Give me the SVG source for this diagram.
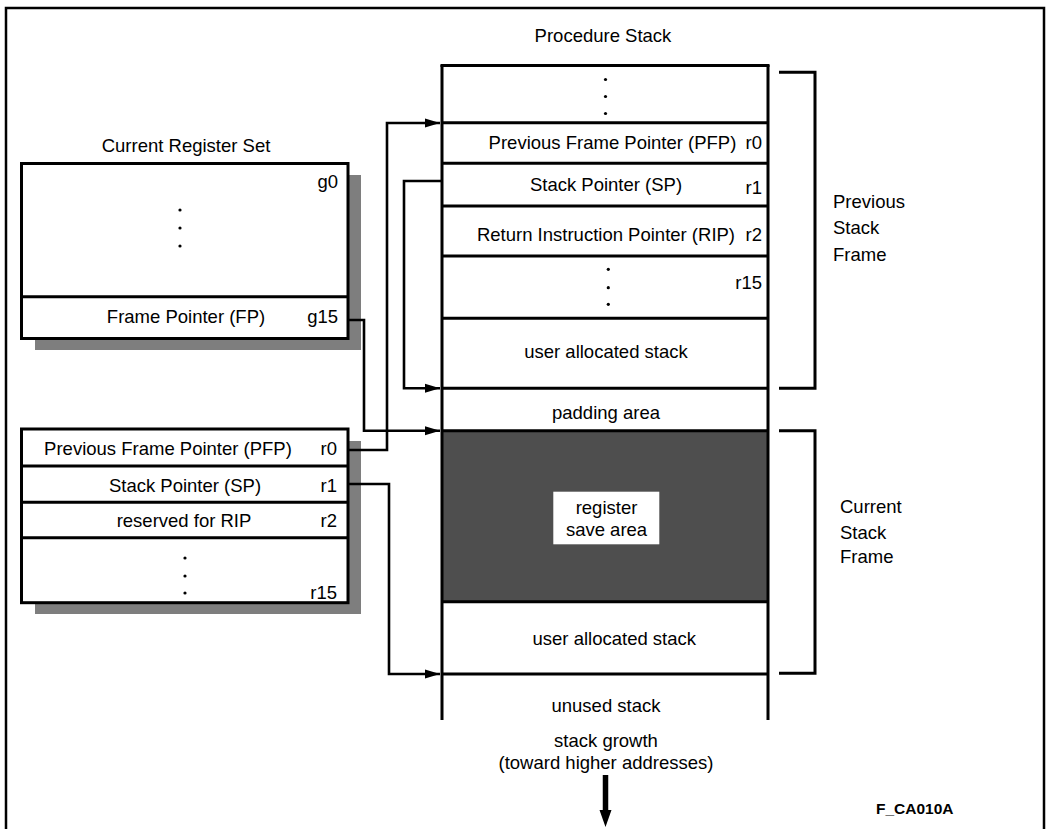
<svg xmlns="http://www.w3.org/2000/svg" width="1047" height="829" viewBox="0 0 1047 829">
<style>
text{font-family:"Liberation Sans",Arial,sans-serif;font-size:18.5px;fill:#000}
.c{text-anchor:middle}
.e{text-anchor:end}
.box{fill:#fff;stroke:#000;stroke-width:3}
.ln{fill:none;stroke:#000;stroke-width:3}
.cn{fill:none;stroke:#000;stroke-width:2.6}
.sh{fill:#7e7e7e}
.dot{fill:#000}
</style>
<defs>
<marker id="ah" markerUnits="userSpaceOnUse" markerWidth="16" markerHeight="12" refX="15" refY="6" orient="auto">
<path d="M0,1.5 L15,6 L0,10.5 Z" fill="#000"/>
</marker>
</defs>
<rect width="1047" height="829" fill="#fff"/>
<path d="M6,835 V8 H1044 V835" fill="none" stroke="#000" stroke-width="2.5"/>

<text class="c" x="603" y="41.5">Procedure Stack</text>

<g id="register-set-global">
<text class="c" x="186" y="151.5">Current Register Set</text>
<rect class="sh" x="35" y="175" width="326" height="175"/>
<rect class="box" x="21.5" y="163.5" width="326.5" height="175"/>
<line class="ln" x1="21.5" y1="296.7" x2="348" y2="296.7"/>
<text class="e" x="338" y="188">g0</text>
<circle class="dot" cx="180" cy="210" r="1.6"/>
<circle class="dot" cx="180" cy="228" r="1.6"/>
<circle class="dot" cx="180" cy="246" r="1.6"/>
<text class="c" x="186" y="323">Frame Pointer (FP)</text>
<text class="e" x="338" y="323">g15</text>
</g>

<g id="register-set-local">
<rect class="sh" x="35" y="441" width="326" height="173"/>
<rect class="box" x="21.5" y="429" width="326.5" height="173.7"/>
<line class="ln" x1="21.5" y1="466" x2="348" y2="466"/>
<line class="ln" x1="21.5" y1="502.3" x2="348" y2="502.3"/>
<line class="ln" x1="21.5" y1="537.7" x2="348" y2="537.7"/>
<text class="c" x="168" y="454.5">Previous Frame Pointer (PFP)</text>
<text class="e" x="337" y="454.5">r0</text>
<text class="c" x="185" y="491.5">Stack Pointer (SP)</text>
<text class="e" x="337" y="491.5">r1</text>
<text class="c" x="184" y="526.5">reserved for RIP</text>
<text class="e" x="337" y="526.5">r2</text>
<circle class="dot" cx="185" cy="558" r="1.6"/>
<circle class="dot" cx="185" cy="576" r="1.6"/>
<circle class="dot" cx="185" cy="593" r="1.6"/>
<text class="e" x="337" y="598.5">r15</text>
</g>

<g id="procedure-stack">
<rect x="442" y="430.7" width="326" height="171" fill="#4e4e4e"/>
<line class="ln" x1="442" y1="65" x2="442" y2="720"/>
<line class="ln" x1="768" y1="65" x2="768" y2="720"/>
<line class="ln" x1="440.5" y1="65.5" x2="769.5" y2="65.5"/>
<line class="ln" x1="442" y1="122.7" x2="768" y2="122.7"/>
<line class="ln" x1="442" y1="163.3" x2="768" y2="163.3"/>
<line class="ln" x1="442" y1="206" x2="768" y2="206"/>
<line class="ln" x1="442" y1="256" x2="768" y2="256"/>
<line class="ln" x1="442" y1="318.3" x2="768" y2="318.3"/>
<line class="ln" x1="442" y1="388.3" x2="768" y2="388.3"/>
<line class="ln" x1="442" y1="430.7" x2="768" y2="430.7"/>
<line class="ln" x1="442" y1="601.7" x2="768" y2="601.7"/>
<line class="ln" x1="442" y1="674" x2="768" y2="674"/>
<circle class="dot" cx="605.5" cy="79.5" r="1.6"/>
<circle class="dot" cx="605.5" cy="96.5" r="1.6"/>
<circle class="dot" cx="605.5" cy="113.5" r="1.6"/>
<text class="c" x="612.5" y="149">Previous Frame Pointer (PFP)</text>
<text class="e" x="762" y="149">r0</text>
<text class="c" x="606" y="190.5">Stack Pointer (SP)</text>
<text class="e" x="762" y="194">r1</text>
<text class="c" x="606" y="241">Return Instruction Pointer (RIP)</text>
<text class="e" x="762" y="241">r2</text>
<circle class="dot" cx="608.3" cy="269.3" r="1.6"/>
<circle class="dot" cx="608.3" cy="287.7" r="1.6"/>
<circle class="dot" cx="608.3" cy="304.3" r="1.6"/>
<text class="e" x="762" y="289">r15</text>
<text class="c" x="606" y="357.5">user allocated stack</text>
<text class="c" x="606" y="419">padding area</text>
<rect x="553.3" y="491.7" width="106" height="52.6" fill="#fff"/>
<text class="c" x="606.5" y="513.5">register</text>
<text class="c" x="606.5" y="536">save area</text>
<text class="c" x="614.3" y="645">user allocated stack</text>
<text class="c" x="606" y="711.5">unused stack</text>
</g>

<g id="previous-frame">
<path class="ln" d="M779,72.3 H815 V388.3 H779"/>
<text x="833" y="208">Previous</text>
<text x="833" y="234">Stack</text>
<text x="833" y="261">Frame</text>
</g>

<g id="current-frame">
<path class="ln" d="M779,430.7 H815 V673.3 H779"/>
<text x="840" y="513">Current</text>
<text x="840" y="539">Stack</text>
<text x="840" y="563">Frame</text>
</g>

<g id="growth">
<text class="c" x="606" y="746.5">stack growth</text>
<text class="c" x="606" y="768.5">(toward higher addresses)</text>
<line x1="605.5" y1="775" x2="605.5" y2="812" stroke="#000" stroke-width="5.5"/>
<path d="M599.5,810 L611.5,810 L605.5,827 Z" fill="#000"/>
</g>

<text x="876" y="814" style="font-size:15.5px;font-weight:bold">F_CA010A</text>

<g id="connectors">
<path class="cn" d="M348,320 H364 V430.7 H440" marker-end="url(#ah)"/>
<path class="cn" d="M348,450 H387 V123 H440" marker-end="url(#ah)"/>
<path class="cn" d="M442,181 H404 V388.3 H440" marker-end="url(#ah)"/>
<path class="cn" d="M348,484 H389 V674 H440" marker-end="url(#ah)"/>
</g>
</svg>
